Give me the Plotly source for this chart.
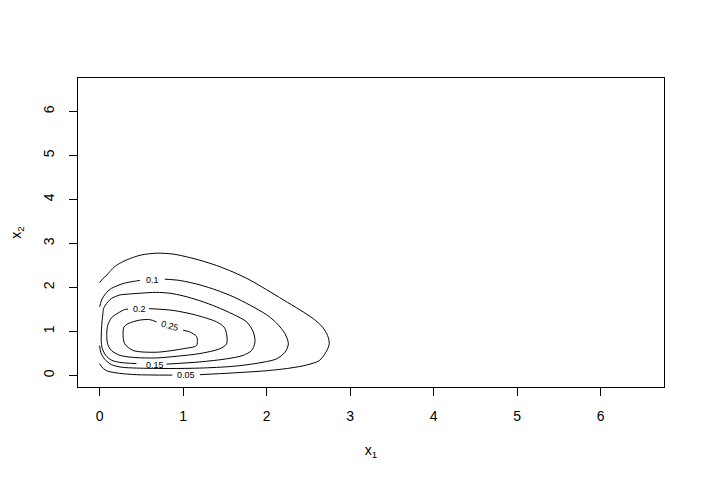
import plotly.graph_objects as go

# contour lines (None = gap where the label sits)
lvl_05_x = [0, 0.036, 0.084, 0.12, 0.19, 0.28, 0.38, 0.50, 0.68, 0.88, 1.08, 1.20, 1.40, 1.60, 1.80, 2.00,
            2.20, 2.40, 2.56, 2.67, 2.73, 2.75, 2.71, 2.63, 2.48, 2.28, 2.00, 1.60, 1.20, None,
            0.87, 0.44, 0.24, 0.096, 0.036, 0]
lvl_05_y = [2.11, 2.20, 2.28, 2.36, 2.49, 2.59, 2.67, 2.74, 2.78, 2.76, 2.68, 2.62, 2.50, 2.35, 2.17, 1.95,
            1.72, 1.49, 1.29, 1.10, 0.91, 0.72, 0.53, 0.34, 0.24, 0.17, 0.11, 0.06, 0.02, None,
            0.01, 0.02, 0.05, 0.10, 0.17, 0.27]

lvl_10_x = [0, 0.018, 0.044, 0.084, 0.14, 0.28, 0.44, 0.48, None, 0.78, 0.96, 1.20, 1.40, 1.60, 1.80, 2.00,
            2.12, 2.22, 2.26, 2.22, 2.12, 1.92, 1.60, 1.20, 0.84, 0.44, 0.26, 0.14, 0.06, 0.012, 0]
lvl_10_y = [1.56, 1.69, 1.79, 1.89, 1.98, 2.09, 2.15, 2.16, None, 2.19, 2.16, 2.06, 1.94, 1.79, 1.60, 1.38,
            1.19, 0.95, 0.72, 0.53, 0.38, 0.29, 0.21, 0.17, 0.16, 0.17, 0.19, 0.25, 0.37, 0.53, 0.68]

lvl_15_x = [0.80, 1.20, 1.52, 1.72, 1.82, 1.86, 1.84, 1.76, 1.60, 1.40, 1.20, 1.00, 0.84, 0.68, 0.48, 0.34,
            0.24, 0.14, 0.096, 0.048, 0.036, 0.024, 0.018, 0.03, 0.072, 0.14, 0.24, 0.44]
lvl_15_y = [0.26, 0.31, 0.38, 0.46, 0.57, 0.76, 0.99, 1.22, 1.39, 1.56, 1.70, 1.81, 1.87, 1.89, 1.87, 1.85,
            1.83, 1.75, 1.67, 1.53, 1.37, 1.14, 0.80, 0.62, 0.46, 0.35, 0.30, 0.27]

lvl_20_x = [0.59, 0.88, 1.16, 1.40, 1.49, 1.52, 1.52, 1.44, 1.20, 0.93, 0.68, 0.42, 0.24, 0.14, 0.096, 0.084,
            0.096, 0.14, 0.22, 0.30, 0.34]
lvl_20_y = [1.52, 1.48, 1.37, 1.22, 1.10, 0.95, 0.72, 0.61, 0.50, 0.44, 0.40, 0.41, 0.46, 0.57, 0.71, 0.91,
            1.14, 1.31, 1.42, 1.50, 1.51]

lvl_25_x = [1.00, 1.08, 1.16, 1.17, 1.16, 1.00, 0.68, 0.40, 0.30, 0.28, 0.29, 0.34, 0.48, 0.60, 0.68]
lvl_25_y = [1.03, 0.99, 0.89, 0.80, 0.68, 0.61, 0.53, 0.57, 0.72, 0.91, 1.10, 1.18, 1.26, 1.27, 1.22]

levels = ["0.05", "0.1", "0.15", "0.2", "0.25"]
label_x = [1.03, 0.63, 0.66, 0.48, 0.84]
label_y = [0.015, 2.18, 0.24, 1.52, 1.13]
label_angle = [0, 0, 0, 0, 15]

ticks = [0, 1, 2, 3, 4, 5, 6]

lines = [(lvl_05_x, lvl_05_y), (lvl_10_x, lvl_10_y), (lvl_15_x, lvl_15_y),
         (lvl_20_x, lvl_20_y), (lvl_25_x, lvl_25_y)]

fig = go.Figure()
for (lx, ly), name in zip(lines, levels):
    fig.add_trace(go.Scatter(
        x=lx, y=ly, mode='lines', name=name,
        line=dict(color='black', width=1, shape='spline', smoothing=0.8),
        hoverinfo='skip', showlegend=False
    ))

for text, ax_, ay_, ang in zip(levels, label_x, label_y, label_angle):
    fig.add_annotation(x=ax_, y=ay_, text=text, showarrow=False, textangle=ang,
                       font=dict(size=9, color='black'))

axis_style = dict(
    range=[-0.26, 6.76], tickvals=ticks, showgrid=False, zeroline=False,
    showline=True, mirror=True, linecolor='black', linewidth=1,
    ticks='outside', ticklen=8, tickcolor='black', tickwidth=1,
    tickfont=dict(size=14, color='black'), automargin=False,
)

# the page body adds 8px, so the figure is 8px smaller than the window
fig.update_layout(
    width=697, height=477,
    margin=dict(l=70, r=41, t=70, b=98),
    paper_bgcolor='white', plot_bgcolor='white',
    font=dict(family='Liberation Sans, Arial, sans-serif', color='black'),
    xaxis=dict(**axis_style, ticklabelstandoff=8,
               title=dict(text='x<sub>1</sub>', font=dict(size=14), standoff=22)),
    yaxis=dict(**axis_style, tickangle=-90, ticklabelstandoff=9,
               title=dict(text='x<sub>2</sub>', font=dict(size=14), standoff=24)),
)

fig.write_html("out.html")
